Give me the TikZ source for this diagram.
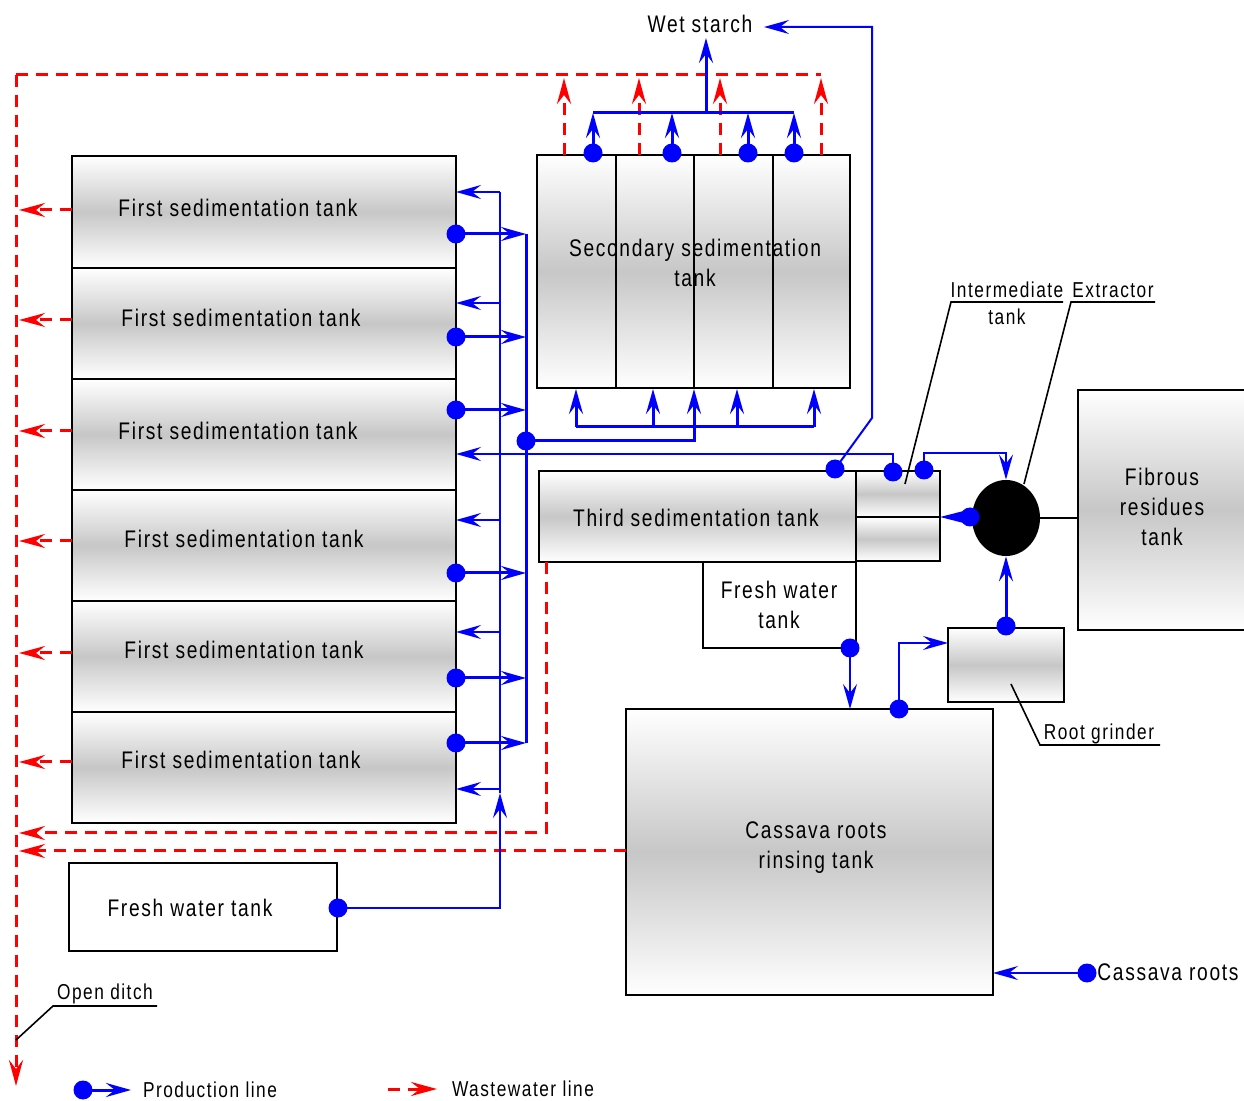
\documentclass[tikz,border=0pt]{standalone}
\usepackage{fontspec}
\setmainfont{Liberation Sans}[FakeStretch=0.8,LetterSpace=7]
\usetikzlibrary{arrows.meta,shapes.geometric}
\begin{document}
\begin{tikzpicture}[x=0.5pt,y=-0.5pt,
  tank/.style={draw=black,line width=1pt,top color=white,bottom color=white,middle color=black!22,inner sep=0pt,outer sep=0pt},
  plainbox/.style={draw=black,line width=1pt,fill=white,inner sep=0pt,outer sep=0pt},
  lbl/.style={font=\fontsize{12}{15}\selectfont,align=center,inner sep=0pt},
  slbl/.style={font=\fontsize{10.8}{13.5}\selectfont,align=center,inner sep=0pt},
  prod/.style={draw=blue,line width=1.5pt},
  prodthin/.style={draw=blue,line width=1pt},
  parr/.style={-{Stealth[length=12.5pt,width=7pt,inset=4.5pt]}},
  bigarr/.style={-{Stealth[length=14pt,width=7pt,inset=2pt]}},
  dot/.style={circle,fill=blue,inner sep=0pt,minimum size=9.5pt},
  waste/.style={draw=red,line width=1.5pt,dash pattern=on 6pt off 4pt},
  warr/.style={-{Stealth[length=13pt,width=7pt,inset=4.5pt]}},
  leader/.style={draw=black,line width=0.8pt},
]
\useasboundingbox (0,0) rectangle (1244,1101);
\fill[white] (0,0) rectangle (1244,1101);

% ---------- first sedimentation tanks ----------
\node[tank,minimum width=192pt,minimum height=56pt] (t1) at (264,212) {};
\node[tank,minimum width=192pt,minimum height=55.5pt] (t2) at (264,323.5) {};
\node[tank,minimum width=192pt,minimum height=55.5pt] (t3) at (264,434.5) {};
\node[tank,minimum width=192pt,minimum height=55.5pt] (t4) at (264,545.5) {};
\node[tank,minimum width=192pt,minimum height=55.5pt] (t5) at (264,656.5) {};
\node[tank,minimum width=192pt,minimum height=55.5pt] (t6) at (264,767.5) {};

% ---------- secondary sedimentation tank ----------
\node[tank,minimum width=156.5pt,minimum height=116.5pt] (sec) at (693.5,271.5) {};
\foreach \xx in {616,694,773} \draw[line width=1pt] (\xx,155) -- (\xx,388);

% ---------- fresh water tank (upper) ----------
\node[plainbox,minimum width=76.5pt,minimum height=43pt] (fw1) at (779.5,605) {};
% ---------- third sedimentation tank and intermediate tank ----------
\node[tank,minimum width=158.5pt,minimum height=45.5pt] (th) at (697.5,516.5) {};
\node[tank,minimum width=42pt,minimum height=23pt] (im1) at (898,494) {};
\node[tank,minimum width=42pt,minimum height=22pt] (im2) at (898,539) {};

% ---------- fibrous residues tank ----------
\node[tank,minimum width=95pt,minimum height=120pt] (fib) at (1173,510) {};
% ---------- root grinder ----------
\node[tank,minimum width=58pt,minimum height=37pt] (rg) at (1006,665) {};
% ---------- cassava roots rinsing tank ----------
\node[tank,minimum width=183.5pt,minimum height=143pt] (cas) at (809.5,852) {};
% ---------- fresh water tank (lower) ----------
\node[plainbox,minimum width=134pt,minimum height=44pt] (fw2) at (203,907) {};

% ---------- extractor ----------
\node[ellipse,fill=black,minimum width=34pt,minimum height=38pt,inner sep=0pt] (ext) at (1006,518) {};
\draw[line width=1pt] (ext.east) -- (fib.west |- ext.east);

% ---------- wastewater lines ----------
\coordinate (ditchtop) at (16,75);
\coordinate (ditchend) at (16,1086);
\draw[waste] (ditchtop) -- (821,75);
\draw[waste,warr] (ditchtop) -- (ditchend);
\foreach \xx in {564,639,720,821} \draw[waste,warr] (\xx,155) -- (\xx,78);
\foreach \tk/\yy in {t1/210,t2/320,t3/431,t4/541,t5/653,t6/762}
  \draw[waste,warr] (\tk.west |- 0,\yy) -- (19,\yy);
\draw[waste,warr] (546,562) |- (19,833);
\draw[waste,warr] (cas.west |- 0,851) -- (19,851);

% ---------- production lines ----------
% supply from lower fresh water tank
\node[dot] (fwd2) at (338,908) {};
\coordinate (sup) at (500,793);
\draw[prodthin] (sup) -- (500,192);
\draw[prodthin,parr] (fwd2.center) -| (sup);
\foreach \tk/\yy in {t1/192,t2/303,t4/520,t5/632,t6/789}
  \draw[prodthin,parr] (500,\yy) -- (\tk.east |- 0,\yy);

% outputs of first tanks
\foreach \nm/\yy in {o1/234,o2/337,o3/410,o4/573,o5/678,o6/743}
  \node[dot] (\nm) at (456,\yy) {};
\foreach \nm in {o1,o2,o3,o4,o5,o6}
  \draw[prod,parr] (\nm.center) -- (\nm.center -| 526,0);
\draw[prod] (526,234) -- (526,743);
\node[dot] (j1) at (526,441) {};
\draw[prod,parr] (j1.center) -| (694,389);
\draw[prod] (576,427) -- (814,427);
\foreach \xx in {576,653,737,814} \draw[prod,parr] (\xx,427) -- (\xx,389);

% top of secondary tank
\foreach \nm/\xx in {s1/593,s2/672,s3/748,s4/794}
  \node[dot] (\nm) at (\xx,153) {};
\foreach \nm in {s1,s2,s3,s4}
  \draw[prod,parr] (\nm.center) -- (\nm.center |- 0,113);
\draw[prod] (593,113) -- (794,113);
\draw[prod,parr] (706,113) -- (706,38);

% wet starch from third tank
\node[dot] (w) at (835,469) {};
\draw[prodthin,parr] (w.center) -- (872,418) -- (872,27) -- (764,27);

% intermediate tank
\node[dot] (i1) at (893,472) {};
\node[dot] (i2) at (924,470) {};
\draw[prodthin,parr] (i1.center) |- (t3.east |- 0,454);
\draw[prodthin,parr] (i2.center) |- (ext.north |- 0,453) -- (ext.north);

% extractor to intermediate tank
\node[dot] (e1) at (970,517) {};
\draw[prod,bigarr] (e1.center) -- (im1.south east);

% root grinder to extractor
\node[dot] (r1) at (1006,626) {};
\draw[prod,parr] (r1.center) -- (ext.south);

% fresh water to rinsing tank
\node[dot] (fwd1) at (850,648) {};
\draw[prodthin,parr] (fwd1.center) -- (fwd1.center |- cas.north);

% rinsing tank to root grinder
\node[dot] (cd1) at (899,709) {};
\draw[prodthin,parr] (cd1.center) |- (rg.west |- 0,643);

% cassava roots input
\node[dot] (cr) at (1087,973) {};
\draw[prodthin,parr] (cr.center) -- (cas.east |- cr.center);

% ---------- leaders ----------
\draw[leader] (905,484) -- (951,302) -- (1063,302);
\draw[leader] (1024,484) -- (1071,302) -- (1155,302);
\draw[leader] (1011,684) -- (1040,745) -- (1160,745);
\draw[leader] (16,1040) -- (53,1006) -- (157,1006);

% ---------- legend ----------
\node[dot] (lg) at (83,1090) {};
\draw[prod,parr] (lg.center) -- (131,1090);
\coordinate (lw1) at (388,1089);
\coordinate (lw2) at (437,1089);
\draw[waste,warr] (lw1) -- (lw2);

% ---------- labels ----------
\node[lbl] (lt1) at (238,208) {First sedimentation tank};
\node[lbl] (lt2) at (241,318) {First sedimentation tank};
\node[lbl] (lt3) at (238,431) {First sedimentation tank};
\node[lbl] (lt4) at (244,539) {First sedimentation tank};
\node[lbl] (lt5) at (244,650) {First sedimentation tank};
\node[lbl] (lt6) at (241,760) {First sedimentation tank};
\node[lbl] (lsec) at (695,262.5) {Secondary sedimentation\\tank};
\node[lbl] (lws) at (700,24) {Wet starch};
\node[lbl] (lth) at (696,518) {Third sedimentation tank};
\node[lbl] (lfw1) at (779,605) {Fresh water\\tank};
\node[slbl] (lim) at (1007,303.5) {Intermediate\\tank};
\node[slbl] (lex) at (1113,290) {Extractor};
\node[lbl] (lfib) at (1162,507) {Fibrous\\residues\\tank};
\node[slbl] (lrg) at (1099,733.5) {Root grinder};
\node[lbl] (lcas) at (816,847.5) {Cassava roots\\rinsing tank};
\node[lbl,anchor=west] (lcr) at (1097,972) {Cassava roots};
\node[lbl] (lfw2) at (190,908) {Fresh water tank};
\node[slbl] (lod) at (105,993.5) {Open ditch};
\node[slbl] (lpl) at (210,1090) {Production line};
\node[slbl] (lwl) at (523,1089) {Wastewater line};
\end{tikzpicture}
\end{document}
